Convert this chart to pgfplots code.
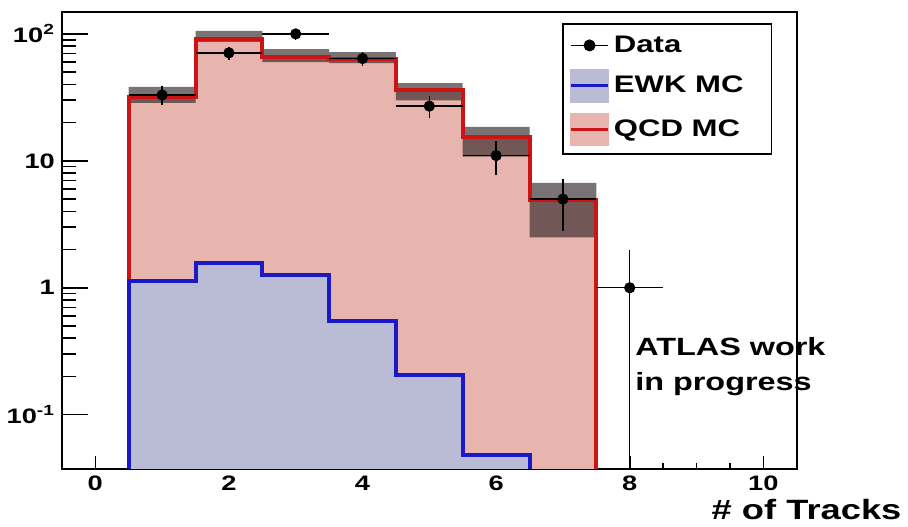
\documentclass[border=0pt]{standalone}
\usepackage{pgfplots}
\pgfplotsset{compat=1.18}
\usepackage{fontspec}
\setmainfont{Liberation Sans}[FakeStretch=1.3]
\definecolor{qcdfill}{RGB}{232,180,174}
\definecolor{ewkfill}{RGB}{186,188,214}
\definecolor{qcdline}{RGB}{205,20,20}
\definecolor{ewkline}{RGB}{25,25,200}
\definecolor{bandc}{RGB}{50,40,40}
\begin{document}
\begin{tikzpicture}
\begin{axis}[
  at={(0,0)}, anchor=south west,
  scale only axis, width=368.5pt, height=229pt,
  xmin=-0.5, xmax=10.5, ymode=log, ymin=0.0376, ymax=149,
  axis line style={line width=1pt},
  tick align=inside, xtick pos=bottom, ytick pos=left,
  xtick={0,2,4,6,8,10}, minor x tick num=3,
  ytick={0.1,1,10,100},
  yticklabels={10\textsuperscript{-1},1,10,10\textsuperscript{2}},
  xtick style={black, line width=0.8pt, /pgfplots/major tick length=6.5pt, /pgfplots/minor tick length=3pt},
  ytick style={black, line width=0.8pt, /pgfplots/major tick length=13pt, /pgfplots/minor tick length=7pt},
  /pgf/number format/assume math mode=true,
  tick label style={font=\fontsize{10.5}{12}\selectfont\bfseries},
  xlabel={\# of Tracks},
  every axis x label/.style={at={(rel axis cs:1,0)}, anchor=base east, xshift=56pt, yshift=-25.5pt, font=\fontsize{14}{16}\selectfont\bfseries},
  legend style={at={(rel axis cs:0.681,0.976)}, anchor=north west, draw=black, line width=0.8pt,
     font=\fontsize{12}{14}\selectfont\bfseries, row sep=5pt, inner xsep=3pt, inner ysep=4pt},
  legend cell align=left,
]
% QCD MC (stacked total) fill
\addplot[const plot, fill=qcdfill, draw=none, forget plot] coordinates
  {(0.5,0.001) (0.5,32) (1.5,92) (2.5,66) (3.5,63) (4.5,36) (5.5,15.5) (6.5,4.9) (7.5,4.9) (7.5,0.001)} -- cycle;
% EWK MC fill
\addplot[const plot, fill=ewkfill, draw=none, forget plot] coordinates
  {(0.5,0.001) (0.5,1.13) (1.5,1.57) (2.5,1.27) (3.5,0.55) (4.5,0.206) (5.5,0.048) (6.5,0.048) (6.5,0.001)} -- cycle;
% MC uncertainty band (upper edge, then lower edge backwards)
\addplot[const plot, fill=bandc, fill opacity=0.65, draw=none, forget plot] coordinates
  {(0.5,38.3) (1.5,105.6) (2.5,76) (3.5,72) (4.5,41) (5.5,18.5) (6.5,6.7) (7.5,6.7)
   (7.5,2.5) (6.5,10.8) (5.5,30) (4.5,59) (3.5,60) (2.5,86.5) (1.5,28.6) (0.5,28.6)} -- cycle;
% QCD line
\addplot[const plot, qcdline, line width=2pt, forget plot] coordinates
  {(0.5,0.001) (0.5,32) (1.5,92) (2.5,66) (3.5,63) (4.5,36) (5.5,15.5) (6.5,4.9) (7.5,4.9) (7.5,0.001)};
% EWK line
\addplot[const plot, ewkline, line width=2pt, forget plot] coordinates
  {(0.5,0.001) (0.5,1.13) (1.5,1.57) (2.5,1.27) (3.5,0.55) (4.5,0.206) (5.5,0.048) (6.5,0.048) (6.5,0.001)};
% Data
\addplot[only marks, mark=*, mark size=2.6pt, black,
  legend image code/.code={
    \draw[black, line width=0.7pt] (0pt,0pt) -- (19pt,0pt);
    \fill[black] (9.5pt,0pt) circle (2.6pt);},
  error bars/.cd, x dir=both, x explicit, y dir=both, y explicit,
  error bar style={line width=0.7pt, black}, error mark=none]
  table[x=x, y=y, x error=ex, y error plus=eyp, y error minus=eym] {
x y ex eyp eym
1 33 0.5 5.7 5.7
2 71 0.5 8.4 8.4
3 100 0.5 10 10
4 64 0.5 8 8
5 27 0.5 5.2 5.2
6 11 0.5 3.3 3.3
7 5 0.5 2.2 2.2
8 1 0.5 1 0.99
};
\addlegendentry{Data}
\addlegendimage{legend image code/.code={
  \fill[ewkfill] (0pt,-8pt) rectangle (19pt,8pt);
  \draw[ewkline, line width=1.5pt] (0pt,0pt) -- (19pt,0pt);}}
\addlegendentry{\makebox[74pt][l]{EWK MC}}
\addlegendimage{legend image code/.code={
  \fill[qcdfill] (0pt,-8pt) rectangle (19pt,8pt);
  \draw[qcdline, line width=1.5pt] (0pt,0pt) -- (19pt,0pt);}}
\addlegendentry{QCD MC}
\end{axis}
\node[anchor=base west, font=\fontsize{12.5}{15}\selectfont\bfseries] at (284pt,56.5pt) {ATLAS work};
\node[anchor=base west, font=\fontsize{12.5}{15}\selectfont\bfseries] at (284pt,39pt) {in progress};
\path (-30.5pt,-29pt) rectangle (423.5pt,235pt);
\end{tikzpicture}
\end{document}
